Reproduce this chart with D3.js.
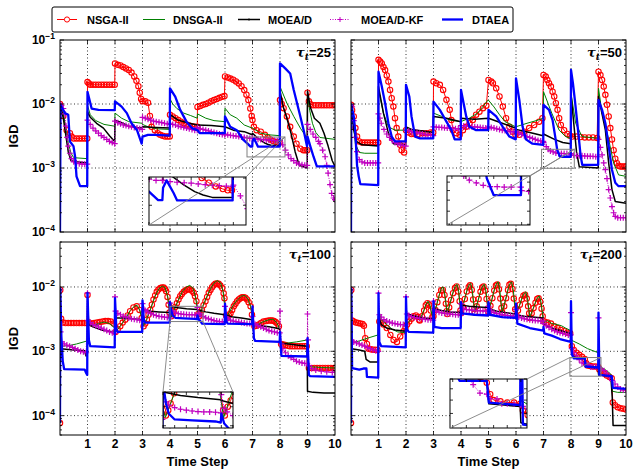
<!DOCTYPE html>
<html>
<head>
<meta charset="utf-8">
<script src="https://cdn.jsdelivr.net/npm/d3@7"></script>
<style>
  body { margin: 0; background: #fff; }
  text { font-family: "Liberation Sans", Arial, sans-serif; font-weight: bold; fill: #000; }
</style>
</head>
<body>
<svg id="chart" width="633" height="472"></svg>
<script>
// ---- data: [time step, IGD] ----
const nsga25 = [
[0,1.0e-2],[0.12,6.5e-3],[0.24,3.9e-3],[0.36,3.5e-3],[0.42,3.1e-3],[0.5,2.9e-3],[0.6,2.9e-3],[0.7,2.9e-3],[0.8,2.9e-3],[0.9,2.9e-3],[0.99,2.9e-3],
[1,2.2e-2],[1.05,2.1e-2],[1.1,2.0e-2],[1.2,2.0e-2],[1.3,2.0e-2],[1.4,2.0e-2],[1.5,2.0e-2],[1.6,2.0e-2],[1.7,2.0e-2],[1.8,2.0e-2],[1.9,2.0e-2],[1.99,2.0e-2],
[2,4.3e-2],[2.1,4.1e-2],[2.2,4.0e-2],[2.3,3.8e-2],[2.4,3.6e-2],[2.5,3.4e-2],[2.6,3.1e-2],[2.7,2.7e-2],[2.78,2.3e-2],[2.85,1.9e-2],[2.9,1.5e-2],[2.95,1.2e-2],
[3,1.1e-2],[3.1,1.1e-2],[3.2,1.05e-2],[3.27,6.5e-3],[3.33,4.4e-3],[3.45,3.9e-3],[3.55,3.5e-3],[3.64,3.3e-3],[3.73,3.2e-3],[3.82,3.1e-3],[3.91,3.1e-3],[3.99,3.1e-3],
[4,6.8e-3],[4.1,6.4e-3],[4.2,6.0e-3],[4.3,5.6e-3],[4.4,5.3e-3],[4.5,5.0e-3],[4.6,4.8e-3],[4.7,4.6e-3],[4.8,4.5e-3],[4.9,4.4e-3],[4.99,4.4e-3],
[5,9.0e-3],[5.1,9.3e-3],[5.2,9.7e-3],[5.3,1.0e-2],[5.4,1.05e-2],[5.5,1.1e-2],[5.6,1.15e-2],[5.7,1.2e-2],[5.8,1.25e-2],[5.9,1.3e-2],[5.98,1.33e-2],
[6,2.7e-2],[6.1,2.6e-2],[6.2,2.5e-2],[6.3,2.4e-2],[6.4,2.25e-2],[6.5,2.1e-2],[6.6,1.9e-2],[6.7,1.65e-2],[6.78,1.4e-2],[6.85,1.15e-2],[6.92,8.5e-3],[6.97,6.5e-3],
[7,5.6e-3],[7.05,4.4e-3],[7.15,3.9e-3],[7.3,3.7e-3],[7.45,3.3e-3],[7.55,3.0e-3],[7.65,2.8e-3],[7.75,2.65e-3],[7.85,2.55e-3],[7.92,2.5e-3],[7.98,2.5e-3],
[8,1.15e-2],[8.06,1.0e-2],[8.13,8.6e-3],[8.25,6.4e-3],[8.37,4.4e-3],[8.5,3.1e-3],[8.6,2.4e-3],[8.74,2.0e-3],[8.85,1.9e-3],[8.92,1.9e-3],[8.99,1.9e-3],
[9,1.5e-2],[9.05,1.1e-2],[9.1,1.0e-2],[9.2,9.6e-3],[9.3,9.6e-3],[9.4,9.6e-3],[9.5,9.6e-3],[9.6,9.6e-3],[9.7,9.6e-3],[9.8,9.6e-3],[9.9,9.6e-3],[10,9.6e-3]
];
const dnsga25 = [
[0,1.0e-2],[0.1,8e-3],[0.2,4.5e-3],[0.3,2.5e-3],[0.4,1.7e-3],[0.5,1.45e-3],[0.99,1.4e-3],
[1,9.5e-3],[1.1,6.8e-3],[1.3,5.5e-3],[1.6,4.8e-3],[1.99,4.5e-3],
[2,7.2e-3],[2.24,6.0e-3],[2.5,5.3e-3],[2.99,5.0e-3],
[3,4.8e-3],[3.2,4.4e-3],[3.5,4.1e-3],[3.99,4.0e-3],
[4,1.2e-2],[4.1,1.0e-2],[4.25,8.5e-3],[4.5,7.2e-3],[4.75,6.6e-3],[4.99,6.0e-3],
[5,7e-3],[5.3,6e-3],[5.6,5.5e-3],[5.99,5.3e-3],
[6,8.6e-3],[6.19,6.8e-3],[6.43,6.0e-3],[6.7,4.7e-3],[6.99,4.2e-3],
[7,4.2e-3],[7.3,3.5e-3],[7.6,3.3e-3],[7.99,3.2e-3],
[8,1.87e-2],[8.25,1.03e-2],[8.5,6.4e-3],[8.74,4.2e-3],[8.99,2.9e-3],
[9,1.3e-2],[9.08,8e-3],[9.18,5e-3],[9.3,3.6e-3],[9.45,3.0e-3],[10,2.8e-3]
];
const moead25 = [
[0,1.0e-2],[0.12,6e-3],[0.2,3.5e-3],[0.3,1.8e-3],[0.4,1.3e-3],[0.6,1.25e-3],[0.99,1.2e-3],
[1,7.6e-3],[1.1,6.2e-3],[1.33,5.0e-3],[1.58,4.2e-3],[1.8,3.2e-3],[1.99,2.6e-3],
[2,5.6e-3],[2.2,5.2e-3],[2.5,4.5e-3],[2.8,4.3e-3],[2.99,4.2e-3],
[3,4.4e-3],[3.5,4.3e-3],[3.99,4.2e-3],
[4,6.8e-3],[4.3,5.6e-3],[4.7,5.0e-3],[4.99,4.7e-3],
[5,4.7e-3],[5.5,4.6e-3],[5.99,4.4e-3],
[6,4.4e-3],[6.3,3.9e-3],[6.7,3.7e-3],[6.99,3.3e-3],
[7,3.5e-3],[7.14,3.05e-3],[7.3,2.7e-3],[7.45,2.45e-3],[7.57,2.33e-3],[7.7,2.25e-3],[7.99,2.25e-3],
[8,1.6e-2],[8.12,9e-3],[8.25,6e-3],[8.4,3.5e-3],[8.55,1.8e-3],[8.7,1.1e-3],[8.99,1.0e-3],
[9,1.6e-2],[9.1,9e-3],[9.25,6e-3],[9.45,5e-3],[9.6,3.5e-3],[9.75,2.2e-3],[9.9,1.3e-3],[10,1.06e-3]
];
const moeadkf25 = [
[0,1.0e-2],[0.05,9.5e-3],[0.12,8.5e-3],[0.18,7e-3],[0.22,4.5e-3],[0.26,3.0e-3],[0.3,2.2e-3],[0.36,1.7e-3],[0.42,1.4e-3],[0.5,1.25e-3],[0.6,1.2e-3],[0.7,1.17e-3],[0.8,1.15e-3],[0.9,1.15e-3],[0.99,1.15e-3],
[1,5.6e-3],[1.1,4.8e-3],[1.2,4.2e-3],[1.3,3.8e-3],[1.4,3.5e-3],[1.5,3.2e-3],[1.6,3.0e-3],[1.7,2.8e-3],[1.8,2.6e-3],[1.9,2.5e-3],[1.99,2.4e-3],
[2,5.4e-3],[2.1,5.1e-3],[2.2,4.9e-3],[2.3,4.7e-3],[2.4,4.6e-3],[2.5,4.5e-3],[2.6,4.4e-3],[2.7,4.3e-3],[2.8,4.2e-3],[2.9,4.1e-3],[2.99,4.0e-3],
[3,6.2e-3],[3.1,6.0e-3],[3.2,5.8e-3],[3.3,5.6e-3],[3.4,5.4e-3],[3.5,5.3e-3],[3.6,5.2e-3],[3.7,5.1e-3],[3.8,5.0e-3],[3.9,4.9e-3],[3.99,4.8e-3],
[4,5.0e-3],[4.1,4.8e-3],[4.2,4.7e-3],[4.3,4.5e-3],[4.4,4.4e-3],[4.5,4.3e-3],[4.6,4.2e-3],[4.7,4.1e-3],[4.8,4.0e-3],[4.9,3.9e-3],[4.99,3.9e-3],
[5,4.3e-3],[5.1,4.1e-3],[5.2,4.0e-3],[5.3,3.9e-3],[5.4,3.8e-3],[5.5,3.7e-3],[5.6,3.6e-3],[5.7,3.5e-3],[5.8,3.4e-3],[5.9,3.35e-3],[5.99,3.3e-3],
[6,3.4e-3],[6.1,3.3e-3],[6.2,3.25e-3],[6.3,3.2e-3],[6.4,3.15e-3],[6.5,3.1e-3],[6.6,3.05e-3],[6.7,3.0e-3],[6.8,2.95e-3],[6.9,2.9e-3],[6.99,2.9e-3],
[7,2.9e-3],[7.1,2.85e-3],[7.2,2.82e-3],[7.3,2.8e-3],[7.4,2.78e-3],[7.5,2.75e-3],[7.6,2.72e-3],[7.7,2.7e-3],[7.8,2.68e-3],[7.9,2.66e-3],[7.99,2.65e-3],
[8,2.7e-3],[8.1,2.3e-3],[8.2,1.9e-3],[8.3,1.6e-3],[8.4,1.4e-3],[8.5,1.3e-3],[8.6,1.2e-3],[8.7,1.15e-3],[8.8,1.12e-3],[8.9,1.1e-3],[8.99,1.1e-3],
[9,4.8e-3],[9.1,4.0e-3],[9.2,3.4e-3],[9.3,3.0e-3],[9.4,2.6e-3],[9.45,2.4e-3],[9.55,1.9e-3],[9.64,1.5e-3],[9.7,1.1e-3],[9.75,8.3e-4],[9.82,5.5e-4],[9.88,4.0e-4],[9.95,3.4e-4],[10,3.2e-4]
];
const dtaea25 = [
[0,1e-4],[0.02,9.7e-3],[0.18,7.2e-3],[0.3,6.8e-3],[0.36,2.6e-3],[0.49,2.2e-3],[0.55,1.5e-3],[0.6,7.4e-4],[0.73,5.2e-4],[0.99,5.2e-4],
[1,1.55e-2],[1.15,8.5e-3],[1.4,8.1e-3],[1.99,8.0e-3],
[2,1.1e-2],[2.24,9.1e-3],[2.43,7.2e-3],[2.6,5e-3],[2.8,3.9e-3],[2.97,2.4e-3],
[3,3.1e-3],[3.2,3.3e-3],[3.5,3.3e-3],[3.99,3.2e-3],
[4,1.76e-2],[4.19,1.3e-2],[4.37,8.1e-3],[4.6,5.3e-3],[4.8,4.2e-3],[4.99,3.9e-3],
[5,3.9e-3],[5.08,3.5e-3],[5.99,3.5e-3],
[6,6.4e-3],[6.19,4.4e-3],[6.43,3.9e-3],[6.65,2.8e-3],[6.8,2.45e-3],[6.93,2.16e-3],[6.99,2.16e-3],
[7,2.6e-3],[7.05,2.9e-3],[7.15,2.4e-3],[7.2,2.15e-3],[7.99,2.15e-3],
[8,4.3e-2],[8.19,3.6e-2],[8.37,3.0e-2],[8.5,1.66e-2],[8.62,1.03e-2],[8.74,6.4e-3],[8.86,3.9e-3],[8.98,2.2e-3],
[9,3.1e-3],[9.1,2.2e-3],[9.22,1.5e-3],[9.34,1.06e-3],[10,1.06e-3]
];

const nsga50 = [
[0,9.7e-3],[0.04,8e-3],[0.1,6.4e-3],[0.16,4.2e-3],[0.22,3.1e-3],[0.3,2.6e-3],[0.4,2.5e-3],[0.5,2.5e-3],[0.6,2.5e-3],[0.7,2.5e-3],[0.8,2.5e-3],[0.9,2.5e-3],[0.99,2.5e-3],
[1,4.9e-2],[1.06,4.6e-2],[1.12,4.3e-2],[1.18,3.8e-2],[1.24,3.4e-2],[1.3,2.8e-2],[1.36,2.24e-2],[1.42,1.66e-2],[1.48,1.23e-2],[1.54,9.1e-3],[1.6,6e-3],[1.66,4.2e-3],[1.72,3.1e-3],[1.78,2.3e-3],[1.84,1.9e-3],[1.93,1.75e-3],
[2,3.9e-3],[2.1,3.6e-3],[2.2,3.4e-3],[2.3,3.4e-3],[2.45,3.4e-3],[2.6,3.5e-3],[2.75,3.5e-3],[2.9,3.6e-3],[2.99,3.6e-3],
[3,2.24e-2],[3.1,2.11e-2],[3.23,1.99e-2],[3.35,1.66e-2],[3.47,1.16e-2],[3.59,8.1e-3],[3.65,5.6e-3],[3.71,3.9e-3],[3.83,3.5e-3],[3.95,3.3e-3],
[4.07,3.9e-3],[4.19,4.4e-3],[4.31,5e-3],[4.43,5.6e-3],[4.55,6.8e-3],[4.67,7.6e-3],[4.8,8.6e-3],[4.92,9.4e-3],
[5,2.37e-2],[5.1,2.24e-2],[5.16,2.11e-2],[5.28,1.76e-2],[5.4,1.31e-2],[5.52,9.1e-3],[5.64,6e-3],[5.76,4.4e-3],[5.88,3.7e-3],[5.98,3.3e-3],
[6.12,3.3e-3],[6.3,3.7e-3],[6.48,4.2e-3],[6.66,4.7e-3],[6.84,5.3e-3],[6.96,6e-3],
[7,2.84e-2],[7.08,2.68e-2],[7.14,2.37e-2],[7.2,2.11e-2],[7.27,1.87e-2],[7.33,1.56e-2],[7.39,1.31e-2],[7.45,1.03e-2],[7.51,8.1e-3],[7.57,6e-3],[7.63,4.7e-3],[7.75,3.9e-3],[7.87,3.4e-3],[7.96,3.2e-3],
[8.05,3.1e-3],[8.2,3.1e-3],[8.35,3.05e-3],[8.5,3.0e-3],[8.65,3.0e-3],[8.8,3.0e-3],[8.95,2.95e-3],
[9,3.2e-2],[9.07,2.84e-2],[9.13,2.37e-2],[9.19,1.87e-2],[9.25,1.39e-2],[9.31,9.7e-3],[9.37,6.4e-3],[9.43,4.2e-3],[9.49,2.8e-3],[9.55,1.9e-3],[9.61,1.4e-3],[9.67,1.19e-3],[9.73,1.08e-3],[9.8,1.06e-3],[9.87,1.06e-3],[9.94,1.06e-3],[10,1.06e-3]
];
const dnsga50 = [
[0,9.7e-3],[0.08,5e-3],[0.16,2.4e-3],[0.3,1.75e-3],[0.5,1.7e-3],[0.99,1.7e-3],
[1,1.66e-2],[1.18,7.2e-3],[1.36,4.4e-3],[1.6,3.9e-3],[1.99,3.9e-3],
[2,4.2e-3],[2.3,3.9e-3],[2.7,3.7e-3],[2.99,3.6e-3],
[3,7.2e-3],[3.3,6.4e-3],[3.6,5.6e-3],[3.99,5.3e-3],
[4.3,6.0e-3],[4.6,7.2e-3],[4.99,1.16e-2],
[5.2,9e-3],[5.4,6.8e-3],[5.6,5.3e-3],[5.99,4.4e-3],
[6.4,5.0e-3],[6.8,5.6e-3],[6.99,6e-3],
[7,1.56e-2],[7.3,7.2e-3],[7.57,3.9e-3],[7.8,3.1e-3],[7.99,2.9e-3],
[8,1.47e-2],[8.17,5e-3],[8.4,3.1e-3],[8.99,2.9e-3],
[9,1.76e-2],[9.13,7.2e-3],[9.37,2.8e-3],[9.55,1.19e-3],[9.73,7.8e-4],[10,7.4e-4]
];
const moead50 = [
[0,9.7e-3],[0.1,4e-3],[0.2,2.6e-3],[0.4,2.3e-3],[0.99,2.2e-3],
[1,1.87e-2],[1.18,7.2e-3],[1.36,3.5e-3],[1.54,2.4e-3],[1.99,2.3e-3],
[2,4.4e-3],[2.2,4.0e-3],[2.6,3.8e-3],[2.99,3.6e-3],
[3,6.4e-3],[3.47,6.0e-3],[3.99,5.3e-3],
[4,6.0e-3],[4.5,5.8e-3],[4.99,6.0e-3],
[5,6.0e-3],[5.5,5.0e-3],[5.99,4.2e-3],
[6,4.0e-3],[6.5,3.6e-3],[6.99,3.2e-3],
[7,3.4e-3],[7.4,2.8e-3],[7.7,2.5e-3],[7.99,2.4e-3],
[8,1.4e-2],[8.1,5e-3],[8.2,1.8e-3],[8.3,1.05e-3],[8.99,1.0e-3],
[9,1.31e-2],[9.25,3.9e-3],[9.37,1.19e-3],[9.49,4.6e-4],[9.61,3.0e-4],[10,2.8e-4]
];
const moeadkf50 = [
[0,9.7e-3],[0.04,9e-3],[0.1,5.5e-3],[0.16,3e-3],[0.22,1.8e-3],[0.3,1.35e-3],[0.4,1.25e-3],[0.5,1.2e-3],[0.6,1.2e-3],[0.7,1.2e-3],[0.8,1.2e-3],[0.9,1.2e-3],[0.99,1.2e-3],
[1,7e-3],[1.05,6e-3],[1.1,5e-3],[1.2,4e-3],[1.3,3.4e-3],[1.4,3e-3],[1.5,2.7e-3],[1.6,2.5e-3],[1.7,2.4e-3],[1.8,2.3e-3],[1.9,2.25e-3],[1.99,2.2e-3],
[2,3.9e-3],[2.1,3.8e-3],[2.2,3.7e-3],[2.3,3.6e-3],[2.4,3.6e-3],[2.5,3.5e-3],[2.6,3.4e-3],[2.7,3.35e-3],[2.8,3.3e-3],[2.9,3.25e-3],[2.99,3.2e-3],
[3,4.4e-3],[3.1,4.35e-3],[3.2,4.3e-3],[3.3,4.3e-3],[3.4,4.25e-3],[3.5,4.2e-3],[3.6,4.2e-3],[3.7,4.15e-3],[3.8,4.1e-3],[3.9,4.1e-3],[3.99,4.1e-3],
[4,4.6e-3],[4.1,4.55e-3],[4.2,4.5e-3],[4.3,4.45e-3],[4.4,4.4e-3],[4.5,4.4e-3],[4.6,4.35e-3],[4.7,4.3e-3],[4.8,4.25e-3],[4.9,4.2e-3],[4.99,4.2e-3],
[5,4.4e-3],[5.1,4.3e-3],[5.2,4.2e-3],[5.3,4.1e-3],[5.4,4.0e-3],[5.5,3.9e-3],[5.6,3.85e-3],[5.7,3.8e-3],[5.8,3.7e-3],[5.9,3.65e-3],[5.99,3.6e-3],
[6,3.7e-3],[6.1,3.5e-3],[6.2,3.35e-3],[6.3,3.2e-3],[6.4,3.1e-3],[6.5,3.0e-3],[6.6,2.9e-3],[6.7,2.8e-3],[6.8,2.7e-3],[6.9,2.65e-3],[6.99,2.6e-3],
[7,2.5e-3],[7.1,2.15e-3],[7.17,1.96e-3],[7.25,1.85e-3],[7.35,1.78e-3],[7.45,1.72e-3],[7.55,1.69e-3],[7.65,1.69e-3],[7.75,1.68e-3],[7.85,1.68e-3],[7.99,1.68e-3],
[8,1.6e-3],[8.1,1.58e-3],[8.2,1.56e-3],[8.3,1.55e-3],[8.4,1.55e-3],[8.5,1.54e-3],[8.6,1.53e-3],[8.7,1.52e-3],[8.8,1.52e-3],[8.9,1.5e-3],[8.99,1.5e-3],
[9,2.8e-3],[9.07,2.1e-3],[9.13,1.6e-3],[9.19,1.2e-3],[9.25,9.4e-4],[9.31,6.8e-4],[9.37,4.6e-4],[9.43,3.4e-4],[9.49,2.5e-4],[9.55,2e-4],[9.61,1.75e-4],[9.7,1.67e-4],[9.8,1.67e-4],[9.9,1.67e-4],[10,1.67e-4]
];
const dtaea50 = [
[0,1e-4],[0.01,9.7e-3],[0.1,6.4e-3],[0.16,3.5e-3],[0.22,1.1e-3],[0.28,7.4e-4],[0.34,5.6e-4],[0.99,5.4e-4],
[1,3.2e-2],[1.12,1.87e-2],[1.24,1.03e-2],[1.36,5e-3],[1.48,3.1e-3],[1.6,2.6e-3],[1.99,2.6e-3],
[2,1.99e-2],[2.12,1.31e-2],[2.2,6.4e-3],[2.33,3.1e-3],[2.51,2.9e-3],[2.99,2.9e-3],
[3,1.09e-2],[3.23,8.1e-3],[3.47,5.3e-3],[3.65,3.9e-3],[3.77,2.8e-3],[3.99,2.8e-3],
[4,1.66e-2],[4.19,6.4e-3],[4.31,4.4e-3],[4.55,3.9e-3],[4.99,3.9e-3],
[5,8.1e-3],[5.28,6.4e-3],[5.52,4.4e-3],[5.76,3.1e-3],[5.99,2.8e-3],
[6,2.52e-2],[6.12,1.16e-2],[6.24,4.4e-3],[6.36,2.8e-3],[6.6,2.4e-3],[6.99,2.3e-3],
[7,9.7e-3],[7.2,8.1e-3],[7.33,5.6e-3],[7.42,3.2e-3],[7.5,1.9e-3],[7.6,1.5e-3],[7.99,1.5e-3],
[8,3.4e-2],[8.07,2.11e-2],[8.14,1.16e-2],[8.23,5e-3],[8.29,2.8e-3],[8.35,1.55e-3],[8.41,1.12e-3],[8.99,1.12e-3],
[9,1.16e-2],[9.13,8.1e-3],[9.25,5e-3],[9.37,2.2e-3],[9.49,9.4e-4],[9.61,5.9e-4],[9.73,5.2e-4],[10,5.2e-4]
];

const nsga100 = [
[0,7.7e-5],[0.01,9e-3],[0.04,3.2e-3],[0.1,2.8e-3],[0.2,2.75e-3],[0.3,2.75e-3],[0.4,2.75e-3],[0.5,2.75e-3],[0.6,2.75e-3],[0.7,2.75e-3],[0.8,2.75e-3],[0.9,2.75e-3],[0.98,2.75e-3],
[1,7.5e-3],[1.05,2.8e-3],[1.15,2.7e-3],[1.25,2.75e-3],[1.35,2.8e-3],[1.45,2.85e-3],[1.55,2.9e-3],[1.65,2.95e-3],[1.75,2.95e-3],[1.85,2.9e-3],[1.95,2.7e-3],
[2.02,2.0e-3],[2.1,2.2e-3],[2.19,2.45e-3],[2.28,2.8e-3],[2.37,3.1e-3],[2.46,3.6e-3],[2.55,4.2e-3],[2.67,4.8e-3],[2.79,5.0e-3],[2.89,4.4e-3],[2.97,3.3e-3],
[3.04,2.45e-3],[3.1,2.7e-3],[3.16,3.1e-3],[3.22,3.7e-3],[3.28,4.4e-3],[3.34,5.3e-3],[3.4,6.4e-3],[3.46,7.4e-3],[3.52,8.4e-3],[3.58,9.1e-3],[3.65,9.6e-3],[3.71,9.8e-3],[3.77,9.8e-3],[3.82,9.3e-3],[3.86,8.6e-3],[3.91,7e-3],[3.95,5.3e-3],[3.98,4e-3],
[4.05,3.5e-3],[4.09,3.8e-3],[4.13,4.2e-3],[4.19,4.9e-3],[4.25,5.6e-3],[4.31,6.4e-3],[4.37,7.2e-3],[4.43,7.8e-3],[4.5,8.4e-3],[4.56,8.8e-3],[4.62,9.1e-3],[4.68,9.2e-3],[4.74,9.1e-3],[4.8,8.7e-3],[4.86,8.1e-3],[4.91,7.2e-3],[4.96,6e-3],
[5.03,3.8e-3],[5.06,3.5e-3],[5.11,4.0e-3],[5.16,4.4e-3],[5.22,5.2e-3],[5.29,6e-3],[5.35,7e-3],[5.41,8.1e-3],[5.47,9e-3],[5.53,9.9e-3],[5.59,1.06e-2],[5.65,1.12e-2],[5.71,1.13e-2],[5.77,1.12e-2],[5.83,1.05e-2],[5.9,9.6e-3],[5.95,8e-3],[5.98,6.7e-3],
[6.04,3.6e-3],[6.08,3.3e-3],[6.14,3.6e-3],[6.2,3.9e-3],[6.26,4.4e-3],[6.32,5e-3],[6.38,5.5e-3],[6.44,6e-3],[6.5,6.4e-3],[6.56,6.7e-3],[6.62,6.9e-3],[6.68,6.9e-3],[6.74,6.8e-3],[6.8,6.4e-3],[6.86,5.8e-3],[6.93,5e-3],[6.98,3.7e-3],
[7.07,2.45e-3],[7.15,2.5e-3],[7.23,2.6e-3],[7.31,2.75e-3],[7.4,2.9e-3],[7.5,2.95e-3],[7.59,3.0e-3],[7.66,3.0e-3],[7.72,3.0e-3],[7.78,2.95e-3],[7.84,2.85e-3],[7.9,2.7e-3],[7.96,2.45e-3],
[8.04,1.3e-3],[8.12,1.27e-3],[8.2,1.25e-3],[8.28,1.22e-3],[8.36,1.2e-3],[8.45,1.2e-3],[8.54,1.2e-3],[8.63,1.2e-3],[8.72,1.2e-3],[8.81,1.2e-3],[8.9,1.2e-3],[8.97,1.2e-3],
[9.05,5.5e-4],[9.15,5.5e-4],[9.25,5.5e-4],[9.35,5.5e-4],[9.45,5.5e-4],[9.55,5.5e-4],[9.65,5.5e-4],[9.75,5.5e-4],[9.85,5.5e-4],[9.95,5.5e-4],[10,5.5e-4]
];
const dnsga100 = [
[0,9e-3],[0.04,1.2e-3],[0.3,1.22e-3],[0.6,1.3e-3],[0.99,1.45e-3],
[1,7e-3],[1.05,2.6e-3],[1.2,2.5e-3],[1.4,2.7e-3],[1.6,2.85e-3],[1.8,2.7e-3],[1.99,2.3e-3],
[2.02,2.0e-3],[2.2,2.5e-3],[2.4,3.3e-3],[2.55,4.3e-3],[2.7,5.0e-3],[2.8,5.2e-3],[2.9,4.4e-3],[2.99,3.0e-3],
[3.04,2.5e-3],[3.15,3.2e-3],[3.3,4.6e-3],[3.45,7e-3],[3.6,9.5e-3],[3.72,1.03e-2],[3.82,9.8e-3],[3.92,7e-3],[3.99,4e-3],
[4.04,3.4e-3],[4.15,4.4e-3],[4.3,6.2e-3],[4.45,8.5e-3],[4.6,1.0e-2],[4.72,1.06e-2],[4.84,9.5e-3],[4.93,7e-3],[4.99,4.5e-3],
[5.04,3.4e-3],[5.15,4.6e-3],[5.3,6.5e-3],[5.45,9e-3],[5.6,1.15e-2],[5.72,1.26e-2],[5.84,1.15e-2],[5.93,8.5e-3],[5.99,5e-3],
[6.04,3.3e-3],[6.15,4e-3],[6.3,5.2e-3],[6.45,6.3e-3],[6.6,7.2e-3],[6.72,7.4e-3],[6.84,6.5e-3],[6.93,5e-3],[6.99,3.6e-3],
[7.04,2.4e-3],[7.2,2.6e-3],[7.4,2.9e-3],[7.6,3.1e-3],[7.75,3.15e-3],[7.88,2.8e-3],[7.99,2.2e-3],
[8.02,1.3e-3],[8.3,1.35e-3],[8.6,1.4e-3],[8.99,1.5e-3],
[9.02,5.8e-4],[9.5,5.6e-4],[10,5.5e-4]
];
const moead100 = [
[0,9e-3],[0.03,1.1e-3],[0.5,1.05e-3],[0.9,1.02e-3],[0.94,8.5e-4],[0.99,8.5e-4],
[1,2.7e-3],[1.2,2.4e-3],[1.5,2.15e-3],[1.8,2.05e-3],[1.99,1.95e-3],
[2,3.3e-3],[2.3,3.3e-3],[2.6,3.2e-3],[2.99,3.1e-3],
[3,4.4e-3],[3.3,4.2e-3],[3.6,4.1e-3],[3.99,4.0e-3],
[4,5.0e-3],[4.3,4.75e-3],[4.6,4.6e-3],[4.99,4.45e-3],
[5,4.4e-3],[5.3,4.1e-3],[5.6,3.9e-3],[5.99,3.7e-3],
[6,3.7e-3],[6.3,3.4e-3],[6.6,3.3e-3],[6.99,3.1e-3],
[7,2.6e-3],[7.3,2.5e-3],[7.6,2.4e-3],[7.99,2.25e-3],
[8,1.35e-3],[8.3,1.3e-3],[8.6,1.25e-3],[8.99,1.2e-3],
[9,2.4e-4],[9.2,2.3e-4],[9.6,2.25e-4],[10,2.25e-4]
];
const moeadkf100 = [
[0,9e-3],[0.02,2e-3],[0.05,1.4e-3],[0.15,1.3e-3],[0.25,1.25e-3],[0.35,1.2e-3],[0.45,1.15e-3],[0.55,1.1e-3],[0.65,1.05e-3],[0.75,1.0e-3],[0.85,9.8e-4],[0.95,9.5e-4],
[1,8e-3],[1.02,3.0e-3],[1.1,2.8e-3],[1.2,2.6e-3],[1.3,2.5e-3],[1.4,2.4e-3],[1.5,2.3e-3],[1.6,2.2e-3],[1.7,2.1e-3],[1.8,2.0e-3],[1.9,1.95e-3],[1.99,1.9e-3],
[2,7e-3],[2.02,4.2e-3],[2.1,3.9e-3],[2.2,3.7e-3],[2.3,3.5e-3],[2.4,3.4e-3],[2.5,3.3e-3],[2.6,3.2e-3],[2.7,3.15e-3],[2.8,3.1e-3],[2.9,3.05e-3],[2.99,3.0e-3],
[3,5.5e-3],[3.05,4.5e-3],[3.1,4.3e-3],[3.2,4.1e-3],[3.3,3.9e-3],[3.4,3.7e-3],[3.5,3.6e-3],[3.6,3.5e-3],[3.7,3.45e-3],[3.8,3.4e-3],[3.9,3.35e-3],[3.99,3.3e-3],
[4,5.6e-3],[4.05,4.3e-3],[4.1,4.1e-3],[4.2,3.95e-3],[4.3,3.85e-3],[4.4,3.8e-3],[4.5,3.75e-3],[4.6,3.72e-3],[4.7,3.7e-3],[4.8,3.7e-3],[4.9,3.68e-3],[4.99,3.65e-3],
[5,4.8e-3],[5.05,3.9e-3],[5.1,3.7e-3],[5.2,3.5e-3],[5.3,3.3e-3],[5.4,3.2e-3],[5.5,3.1e-3],[5.6,3.0e-3],[5.7,2.95e-3],[5.8,2.9e-3],[5.9,2.9e-3],[5.99,2.85e-3],
[6,5.0e-3],[6.05,3.4e-3],[6.1,3.2e-3],[6.2,3.05e-3],[6.3,2.95e-3],[6.4,2.9e-3],[6.5,2.85e-3],[6.6,2.8e-3],[6.7,2.75e-3],[6.8,2.7e-3],[6.9,2.7e-3],[6.99,2.65e-3],
[7,3.5e-3],[7.05,2.7e-3],[7.1,2.6e-3],[7.2,2.5e-3],[7.3,2.4e-3],[7.4,2.3e-3],[7.5,2.2e-3],[7.6,2.1e-3],[7.7,2.05e-3],[7.8,2.0e-3],[7.9,1.95e-3],[7.99,1.93e-3],
[8,4.2e-3],[8.05,1.3e-3],[8.1,1.1e-3],[8.2,9.5e-4],[8.3,8.5e-4],[8.4,8e-4],[8.5,7.5e-4],[8.6,7e-4],[8.7,6.8e-4],[8.8,6.6e-4],[8.9,6.5e-4],[8.99,6.4e-4],
[9,3.8e-3],[9.02,1.5e-3],[9.05,6e-4],[9.15,5.4e-4],[9.3,5.1e-4],[9.5,4.9e-4],[9.7,4.8e-4],[9.9,4.7e-4],[10,4.7e-4]
];
const dtaea100 = [
[0,7.7e-5],[0.01,9.5e-3],[0.05,1.7e-3],[0.1,7e-4],[0.15,5.3e-4],[0.9,5.2e-4],[0.95,4.6e-4],[0.99,4.3e-4],
[1,8.1e-3],[1.05,1.5e-3],[1.1,1.2e-3],[1.99,1.15e-3],
[2,6.7e-3],[2.05,2.2e-3],[2.1,2.0e-3],[2.99,2.0e-3],
[3,6.2e-3],[3.05,3.0e-3],[3.1,2.8e-3],[3.99,2.8e-3],
[4,5.8e-3],[4.05,4.2e-3],[4.1,3.6e-3],[4.2,3.3e-3],[4.5,3.25e-3],[4.9,3.2e-3],[4.99,3.15e-3],
[5,3.6e-3],[5.05,3.1e-3],[5.12,2.9e-3],[5.16,2.7e-3],[5.99,2.65e-3],
[6,5.5e-3],[6.05,2.9e-3],[6.1,2.7e-3],[6.99,2.65e-3],
[7,5e-3],[7.05,1.6e-3],[7.1,1.45e-3],[7.99,1.4e-3],
[8,2e-3],[8.05,8.5e-4],[8.99,8.3e-4],
[9,1.6e-3],[9.05,4.3e-4],[9.1,4.1e-4],[10,4.0e-4]
];

const nsga200 = [
[0,7.7e-5],[0.01,9e-3],[0.04,3.0e-3],[0.1,2.9e-3],[0.18,2.8e-3],[0.26,2.75e-3],[0.34,2.7e-3],[0.42,2.65e-3],[0.47,2.5e-3],[0.52,1.6e-3],[0.58,1.3e-3],[0.64,1.1e-3],[0.72,1.08e-3],[0.8,1.06e-3],[0.88,1.06e-3],[0.96,1.05e-3],
[1.03,2.9e-3],[1.1,2.8e-3],[1.18,2.6e-3],[1.3,2.3e-3],[1.43,1.8e-3],[1.55,1.5e-3],[1.67,1.4e-3],[1.79,1.7e-3],[1.91,2.05e-3],[1.98,2.3e-3],
[2.04,2.6e-3],[2.12,2.9e-3],[2.2,3.2e-3],[2.28,3.5e-3],[2.36,3.6e-3],[2.43,3.4e-3],[2.48,3.1e-3],
[2.5,3.0e-3],[2.58,3.5e-3],[2.66,4.3e-3],[2.72,5.2e-3],[2.78,5.6e-3],[2.84,5.3e-3],[2.9,4.3e-3],[2.96,3.4e-3],
[3.0,3.5e-3],[3.07,4.4e-3],[3.14,5.8e-3],[3.21,7.5e-3],[3.28,8.9e-3],[3.34,9.0e-3],[3.4,7.5e-3],[3.45,5.5e-3],[3.48,4.2e-3],
[3.5,3.8e-3],[3.57,4.8e-3],[3.64,6.3e-3],[3.71,8.0e-3],[3.78,9.6e-3],[3.84,1.02e-2],[3.9,8.5e-3],[3.95,6.0e-3],[3.98,4.3e-3],
[4.0,3.9e-3],[4.07,4.9e-3],[4.14,6.5e-3],[4.21,8.5e-3],[4.28,1.0e-2],[4.33,1.06e-2],[4.39,9.0e-3],[4.44,6.4e-3],[4.48,4.6e-3],
[4.5,4.0e-3],[4.57,5.0e-3],[4.64,6.5e-3],[4.71,8.4e-3],[4.77,9.8e-3],[4.82,1.02e-2],[4.88,8.8e-3],[4.93,6.5e-3],[4.97,4.6e-3],
[5.0,4.1e-3],[5.07,5.1e-3],[5.14,6.7e-3],[5.21,8.8e-3],[5.27,1.05e-2],[5.32,1.09e-2],[5.38,9.2e-3],[5.43,6.6e-3],[5.47,4.7e-3],
[5.5,4.0e-3],[5.57,5.0e-3],[5.64,6.7e-3],[5.71,9.0e-3],[5.76,1.08e-2],[5.81,1.12e-2],[5.87,9.3e-3],[5.92,6.6e-3],[5.97,4.5e-3],
[6.0,3.6e-3],[6.07,4.3e-3],[6.14,5.3e-3],[6.21,6.4e-3],[6.27,7.3e-3],[6.33,7.6e-3],[6.39,6.6e-3],[6.44,5.0e-3],[6.48,3.9e-3],
[6.5,3.3e-3],[6.57,3.9e-3],[6.64,4.7e-3],[6.71,5.7e-3],[6.77,6.5e-3],[6.82,6.7e-3],[6.88,5.9e-3],[6.93,4.6e-3],[6.97,3.5e-3],
[7.03,2.9e-3],[7.15,2.8e-3],[7.27,2.7e-3],[7.39,2.45e-3],[7.51,2.3e-3],[7.63,2.15e-3],[7.75,2.05e-3],[7.87,1.95e-3],[7.97,1.9e-3],
[8.03,1.2e-3],[8.1,1.05e-3],[8.2,9.5e-4],[8.3,8.8e-4],[8.4,8.2e-4],[8.5,7.6e-4],[8.55,6.5e-4],[8.6,6.0e-4],[8.7,5.9e-4],[8.8,5.8e-4],[8.9,5.8e-4],[8.99,5.7e-4],
[9.03,5.2e-4],[9.1,4.9e-4],[9.2,4.5e-4],[9.3,4.2e-4],[9.4,4.0e-4],[9.48,3.8e-4],[9.52,1.6e-4],[9.6,1.45e-4],[9.7,1.35e-4],[9.8,1.3e-4],[9.9,1.28e-4],[10,1.25e-4]
];
const dnsga200 = [
[0,9e-3],[0.03,1.35e-3],[0.3,1.45e-3],[0.6,1.6e-3],[0.99,1.8e-3],
[1,4.5e-3],[1.1,3.1e-3],[1.3,2.6e-3],[1.5,2.2e-3],[1.7,2.0e-3],[1.99,1.95e-3],
[2,2.6e-3],[2.2,3.2e-3],[2.35,3.6e-3],[2.48,3.2e-3],
[2.5,3.1e-3],[2.62,4.0e-3],[2.72,5.3e-3],[2.8,6.0e-3],[2.87,5.2e-3],[2.95,3.6e-3],
[3.0,3.6e-3],[3.12,5.4e-3],[3.22,7.8e-3],[3.3,9.8e-3],[3.36,9.9e-3],[3.42,7.4e-3],[3.48,4.4e-3],
[3.5,3.9e-3],[3.62,6.0e-3],[3.72,8.6e-3],[3.8,1.05e-2],[3.86,1.1e-2],[3.92,8.4e-3],[3.98,4.6e-3],
[4.0,4.0e-3],[4.12,6.2e-3],[4.22,9.0e-3],[4.3,1.1e-2],[4.35,1.15e-2],[4.41,8.8e-3],[4.48,4.9e-3],
[4.5,4.1e-3],[4.62,6.2e-3],[4.72,8.8e-3],[4.8,1.06e-2],[4.85,1.1e-2],[4.91,8.6e-3],[4.97,5.0e-3],
[5.0,4.2e-3],[5.12,6.4e-3],[5.22,9.4e-3],[5.3,1.15e-2],[5.35,1.2e-2],[5.41,9.0e-3],[5.47,5.0e-3],
[5.5,4.1e-3],[5.62,6.4e-3],[5.72,9.6e-3],[5.79,1.15e-2],[5.84,1.2e-2],[5.9,9.0e-3],[5.97,4.8e-3],
[6.0,3.7e-3],[6.12,5.1e-3],[6.22,6.8e-3],[6.3,8.0e-3],[6.36,8.4e-3],[6.42,6.5e-3],[6.48,4.1e-3],
[6.5,3.4e-3],[6.62,4.6e-3],[6.72,6.0e-3],[6.8,7.0e-3],[6.85,7.2e-3],[6.91,5.8e-3],[6.97,3.7e-3],
[7.0,2.8e-3],[7.15,3.0e-3],[7.3,2.7e-3],[7.5,2.6e-3],[7.65,2.5e-3],[7.8,2.3e-3],[7.99,2.1e-3],
[8,1.5e-3],[8.3,1.3e-3],[8.6,1.1e-3],[8.99,9.5e-4],
[9,6e-4],[9.3,5e-4],[9.45,4.4e-4],[9.5,2.4e-4],[9.7,2.3e-4],[10,2.3e-4]
];
const moead200 = [
[0,9e-3],[0.03,1.1e-3],[0.3,1.05e-3],[0.5,1.0e-3],[0.55,7.5e-4],[0.7,6.8e-4],[0.99,6.8e-4],
[1,3.5e-3],[1.1,2.6e-3],[1.3,2.3e-3],[1.6,2.15e-3],[1.99,2.05e-3],
[2,3.9e-3],[2.3,3.5e-3],[2.6,3.3e-3],[2.99,3.2e-3],
[3,4.6e-3],[3.3,4.3e-3],[3.6,4.1e-3],[3.99,4.0e-3],
[4,5.2e-3],[4.3,5.0e-3],[4.6,4.9e-3],[4.99,4.8e-3],
[5,4.6e-3],[5.3,4.2e-3],[5.6,4.0e-3],[5.99,3.8e-3],
[6,3.7e-3],[6.3,3.5e-3],[6.6,3.4e-3],[6.99,3.3e-3],
[7,2.6e-3],[7.3,2.3e-3],[7.6,2.1e-3],[7.99,1.9e-3],
[8,1.1e-3],[8.1,8.5e-4],[8.2,7.9e-4],[8.5,7.8e-4],[8.53,5.7e-4],[8.99,5.5e-4],
[9,4.4e-4],[9.45,4.0e-4],[9.5,1.9e-4],[9.53,7e-5],[10,7e-5]
];
const moeadkf200 = [
[0,9e-3],[0.03,1.45e-3],[0.1,1.4e-3],[0.2,1.35e-3],[0.3,1.3e-3],[0.4,1.25e-3],[0.5,1.2e-3],[0.6,1.15e-3],[0.7,1.1e-3],[0.8,1.05e-3],[0.9,1.02e-3],[0.99,1.0e-3],
[1,8e-3],[1.03,3.7e-3],[1.1,3.4e-3],[1.2,3.1e-3],[1.3,2.95e-3],[1.4,2.85e-3],[1.5,2.75e-3],[1.6,2.7e-3],[1.7,2.65e-3],[1.8,2.6e-3],[1.9,2.6e-3],[1.99,2.55e-3],
[2,7e-3],[2.03,3.8e-3],[2.1,3.6e-3],[2.2,3.45e-3],[2.3,3.35e-3],[2.4,3.3e-3],[2.5,3.25e-3],[2.6,3.2e-3],[2.7,3.15e-3],[2.8,3.1e-3],[2.9,3.1e-3],[2.99,3.05e-3],
[3,6e-3],[3.03,4.4e-3],[3.1,4.2e-3],[3.2,4.05e-3],[3.3,3.95e-3],[3.4,3.9e-3],[3.5,3.85e-3],[3.6,3.8e-3],[3.7,3.75e-3],[3.8,3.7e-3],[3.9,3.7e-3],[3.99,3.65e-3],
[4,5.5e-3],[4.03,4.7e-3],[4.1,4.55e-3],[4.2,4.45e-3],[4.3,4.4e-3],[4.4,4.35e-3],[4.5,4.3e-3],[4.6,4.3e-3],[4.7,4.25e-3],[4.8,4.25e-3],[4.9,4.2e-3],[4.99,4.2e-3],
[5,5e-3],[5.03,4.4e-3],[5.1,4.2e-3],[5.2,4.0e-3],[5.3,3.9e-3],[5.4,3.8e-3],[5.5,3.7e-3],[5.6,3.65e-3],[5.7,3.6e-3],[5.8,3.55e-3],[5.9,3.5e-3],[5.99,3.5e-3],
[6,4.5e-3],[6.03,3.5e-3],[6.1,3.4e-3],[6.2,3.3e-3],[6.3,3.2e-3],[6.4,3.15e-3],[6.5,3.1e-3],[6.6,3.05e-3],[6.7,3.0e-3],[6.8,3.0e-3],[6.9,2.95e-3],[6.99,2.95e-3],
[7,2.7e-3],[7.1,2.5e-3],[7.2,2.35e-3],[7.3,2.2e-3],[7.4,2.1e-3],[7.5,2.0e-3],[7.6,1.95e-3],[7.7,1.9e-3],[7.8,1.85e-3],[7.9,1.8e-3],[7.99,1.8e-3],
[8,4e-3],[8.03,1.1e-3],[8.1,9.5e-4],[8.2,8.5e-4],[8.3,7.4e-4],[8.4,6.6e-4],[8.5,6.5e-4],[8.55,6.1e-4],[8.65,6.1e-4],[8.72,5.7e-4],[8.8,5.7e-4],[8.9,5.7e-4],[8.99,5.6e-4],
[9,3.3e-3],[9.03,5.5e-4],[9.1,5.3e-4],[9.2,5.0e-4],[9.3,4.6e-4],[9.4,4.0e-4],[9.5,3.5e-4],[9.6,3.1e-4],[9.7,2.8e-4],[9.8,2.6e-4],[9.9,2.5e-4],[9.99,2.5e-4]
];
const dtaea200 = [
[0,7.7e-5],[0.01,9.5e-3],[0.04,5.5e-4],[0.3,5.2e-4],[0.45,5.4e-4],[0.56,5.4e-4],[0.58,4e-4],[0.99,3.9e-4],
[1,8e-3],[1.03,1.4e-3],[1.1,1.2e-3],[1.99,1.15e-3],
[2,7e-3],[2.03,2.2e-3],[2.1,2.0e-3],[2.99,1.95e-3],
[3,6e-3],[3.03,2.4e-3],[3.3,2.3e-3],[3.99,2.3e-3],
[4,5.8e-3],[4.03,3.9e-3],[4.5,3.7e-3],[4.99,3.6e-3],
[5,5.8e-3],[5.05,3.7e-3],[5.5,3.4e-3],[5.99,3.3e-3],
[6,5.5e-3],[6.05,2.7e-3],[6.5,2.3e-3],[6.99,2.1e-3],
[7,2.4e-3],[7.03,1.9e-3],[7.3,1.75e-3],[7.6,1.55e-3],[7.99,1.4e-3],
[8,6e-3],[8.03,9e-4],[8.1,7.8e-4],[8.5,7.8e-4],[8.53,5.8e-4],[8.99,5.6e-4],
[9,4e-3],[9.03,4.3e-4],[9.48,4.1e-4],[9.52,2.7e-4],[10,2.6e-4]
];

const algoNames = ['NSGA-II', 'DNSGA-II', 'MOEA/D', 'MOEA/D-KF', 'DTAEA'];
const tauLabels = ['25', '50', '100', '200'];
const xTickLabels = [1, 2, 3, 4, 5, 6, 7, 8, 9, 10];

// ---- styles ----
const styles = [
  { color: '#ff0000', width: 1, marker: 'circle' },
  { color: '#008000', width: 1 },
  { color: '#000000', width: 1.5 },
  { color: '#c000c0', width: 1, dash: '1,1.5', marker: 'plus' },
  { color: '#0000ff', width: 2.3 }
];

const panels = [
  { px: [60, 335], py: [40, 232], yDom: [1e-4, 1e-1], data: [nsga25, dnsga25, moead25, moeadkf25, dtaea25], yLab: true, xLab: false,
    inset: { px: [149, 246], py: [177, 225], xDom: [6.8, 8.18], yDom: [1.49e-3, 3.05e-3], links: [['bl', 'tr'], ['tr', 'tr']] } },
  { px: [351, 626], py: [40, 232], yDom: [1e-4, 1e-1], data: [nsga50, dnsga50, moead50, moeadkf50, dtaea50], yLab: false, xLab: false,
    inset: { px: [447, 530], py: [176, 225], xDom: [6.93, 8.12], yDom: [9.9e-4, 1.96e-3], links: [['bl', 'tr'], ['tr', 'tr']] } },
  { px: [60, 335], py: [242, 435], yDom: [5e-5, 5e-2], data: [nsga100, dnsga100, moead100, moeadkf100, dtaea100], yLab: true, xLab: true,
    inset: { px: [163, 233], py: [392, 428], xDom: [4.0, 5.2], yDom: [2.9e-3, 5.0e-3], links: [['tl', 'bl'], ['tr', 'br']] } },
  { px: [351, 626], py: [242, 435], yDom: [5e-5, 5e-2], data: [nsga200, dnsga200, moead200, moeadkf200, dtaea200], yLab: false, xLab: true,
    inset: { px: [450, 527], py: [379, 428], xDom: [7.96, 9.09], yDom: [4.1e-4, 8.0e-4], links: [['tr', 'tl'], ['bl', 'tr']] } }
];

const svg = d3.select('#chart');
const defs = svg.append('defs');

function drawSeries(g, p, x, y) {
  const line = d3.line().x(d => x(d[0])).y(d => y(d[1]));
  styles.forEach((s, i) => {
    const data = p.data[i];
    g.append('path').datum(data)
      .attr('d', line)
      .attr('fill', 'none')
      .attr('stroke', s.color)
      .attr('stroke-width', s.width)
      .attr('stroke-dasharray', s.dash || null)
      .attr('stroke-linejoin', 'round');
    if (s.marker === 'circle') {
      g.selectAll(null).data(data).enter().append('circle')
        .attr('cx', d => x(d[0])).attr('cy', d => y(d[1])).attr('r', 2.7)
        .attr('fill', 'none').attr('stroke', s.color).attr('stroke-width', 1.1);
    } else if (s.marker === 'plus') {
      g.selectAll(null).data(data).enter().append('path')
        .attr('d', 'M-3,0H3M0,-3V3')
        .attr('transform', d => 'translate(' + x(d[0]) + ',' + y(d[1]) + ')')
        .attr('stroke', s.color).attr('stroke-width', 1.2);
    }
  });
}

function isDecade(v) {
  const l = Math.log10(v);
  return Math.abs(l - Math.round(l)) < 1e-6;
}

function corner(b, name) {
  return [name[1] === 'l' ? b.l : b.r, name[0] === 't' ? b.t : b.b];
}

panels.forEach((p, k) => {
  const x = d3.scaleLinear().domain([0, 10]).range(p.px);
  const y = d3.scaleLog().domain(p.yDom).range([p.py[1], p.py[0]]);
  const g = svg.append('g');
  const [x0, x1] = p.px, [y0, y1] = p.py;

  defs.append('clipPath').attr('id', 'clip' + k)
    .append('rect').attr('x', x0).attr('y', y0).attr('width', x1 - x0).attr('height', y1 - y0);

  // grid
  const grid = g.append('g').attr('stroke', '#000').attr('stroke-width', 0.8).attr('stroke-dasharray', '1,2.5');
  grid.selectAll(null).data(d3.range(1, 10)).enter().append('line')
    .attr('x1', d => x(d)).attr('x2', d => x(d)).attr('y1', y0).attr('y2', y1);
  const decades = y.ticks().filter(isDecade);
  grid.selectAll(null).data(decades.filter(v => Math.abs(y(v) - y0) > 1 && Math.abs(y(v) - y1) > 1)).enter().append('line')
    .attr('x1', x0).attr('x2', x1).attr('y1', d => y(d)).attr('y2', d => y(d));

  // series
  const sg = g.append('g').attr('clip-path', 'url(#clip' + k + ')');
  drawSeries(sg, p, x, y);

  // frame and ticks
  g.append('rect').attr('x', x0).attr('y', y0).attr('width', x1 - x0).attr('height', y1 - y0)
    .attr('fill', 'none').attr('stroke', '#000').attr('stroke-width', 1);
  const tk = g.append('g').attr('stroke', '#000').attr('stroke-width', 0.8);
  d3.range(1, 10).forEach(v => {
    tk.append('line').attr('x1', x(v)).attr('x2', x(v)).attr('y1', y1).attr('y2', y1 - 4);
    tk.append('line').attr('x1', x(v)).attr('x2', x(v)).attr('y1', y0).attr('y2', y0 + 4);
  });
  y.ticks().forEach(v => {
    const len = isDecade(v) ? 4 : 2;
    tk.append('line').attr('x1', x0).attr('x2', x0 + len).attr('y1', y(v)).attr('y2', y(v));
    tk.append('line').attr('x1', x1).attr('x2', x1 - len).attr('y1', y(v)).attr('y2', y(v));
  });

  // tick labels
  if (p.yLab) {
    decades.forEach(v => {
      const t = g.append('text').attr('x', x0 - 5).attr('y', y(v) + 4).attr('text-anchor', 'end').attr('font-size', 12);
      t.append('tspan').text('10');
      t.append('tspan').attr('dy', -5).attr('font-size', 8.5).text('\u2212' + Math.round(-Math.log10(v)));
    });
    g.append('text').attr('transform', 'translate(18,' + ((y0 + y1) / 2) + ') rotate(-90)')
      .attr('text-anchor', 'middle').attr('font-size', 13).text('IGD');
  }
  if (p.xLab) {
    g.selectAll(null).data(xTickLabels).enter().append('text')
      .attr('x', d => x(d)).attr('y', y1 + 13).attr('text-anchor', 'middle').attr('font-size', 12)
      .text(d => d);
    g.append('text').attr('x', (x0 + x1) / 2).attr('y', 466).attr('text-anchor', 'middle')
      .attr('font-size', 13).text('Time Step');
  }

  // tau label
  const tl = g.append('text').attr('x', x1 - 4).attr('y', y0 + 17).attr('text-anchor', 'end').attr('font-size', 13);
  tl.append('tspan').attr('font-family', 'DejaVu Serif, serif').attr('font-style', 'italic').text('\u03c4');
  tl.append('tspan').attr('font-family', 'DejaVu Serif, serif').attr('font-style', 'italic').attr('font-size', 9).attr('dy', 3).text('t');
  tl.append('tspan').attr('dy', -3).text('=' + tauLabels[k]);

  // inset
  const ins = p.inset;
  const src = { l: x(ins.xDom[0]), r: x(ins.xDom[1]), t: y(ins.yDom[1]), b: y(ins.yDom[0]) };
  const box = { l: ins.px[0], r: ins.px[1], t: ins.py[0], b: ins.py[1] };
  g.append('rect').attr('x', src.l).attr('y', src.t).attr('width', src.r - src.l).attr('height', src.b - src.t)
    .attr('fill', 'none').attr('stroke', '#808080').attr('stroke-width', 1);

  const ix = d3.scaleLinear().domain(ins.xDom).range(ins.px);
  const iy = d3.scaleLog().domain(ins.yDom).range([ins.py[1], ins.py[0]]);
  defs.append('clipPath').attr('id', 'iclip' + k)
    .append('rect').attr('x', box.l).attr('y', box.t).attr('width', box.r - box.l).attr('height', box.b - box.t);
  g.append('rect').attr('x', box.l).attr('y', box.t).attr('width', box.r - box.l).attr('height', box.b - box.t)
    .attr('fill', '#fff');
  const ig = g.append('g').attr('clip-path', 'url(#iclip' + k + ')');
  drawSeries(ig, p, ix, iy);
  g.append('rect').attr('x', box.l).attr('y', box.t).attr('width', box.r - box.l).attr('height', box.b - box.t)
    .attr('fill', 'none').attr('stroke', '#000').attr('stroke-width', 1);
  const itk = g.append('g').attr('stroke', '#000').attr('stroke-width', 0.8);
  ix.ticks(6).forEach(v => {
    itk.append('line').attr('x1', ix(v)).attr('x2', ix(v)).attr('y1', box.b).attr('y2', box.b - 3);
    itk.append('line').attr('x1', ix(v)).attr('x2', ix(v)).attr('y1', box.t).attr('y2', box.t + 3);
  });
  iy.ticks(4).forEach(v => {
    itk.append('line').attr('x1', box.l).attr('x2', box.l + 3).attr('y1', iy(v)).attr('y2', iy(v));
    itk.append('line').attr('x1', box.r).attr('x2', box.r - 3).attr('y1', iy(v)).attr('y2', iy(v));
  });

  ins.links.forEach(([a, b]) => {
    const pa = corner(box, a), pb = corner(src, b);
    g.append('line').attr('x1', pa[0]).attr('y1', pa[1]).attr('x2', pb[0]).attr('y2', pb[1])
      .attr('stroke', '#808080').attr('stroke-width', 0.9);
  });
});

// ---- legend ----
const leg = svg.append('g');
leg.append('rect').attr('x', 52).attr('y', 7).attr('width', 461).attr('height', 25).attr('rx', 2)
  .attr('fill', '#fff').attr('stroke', '#000').attr('stroke-width', 1);
const legX = [[57, 77, 87], [143, 165, 173], [238, 260, 268], [330, 350, 361], [442, 463, 472]];
styles.forEach((s, i) => {
  const [a, b, t] = legX[i];
  const cy = 19.5;
  leg.append('line').attr('x1', a).attr('x2', b).attr('y1', cy).attr('y2', cy)
    .attr('stroke', s.color).attr('stroke-width', s.width).attr('stroke-dasharray', s.dash || null);
  const mx = (a + b) / 2;
  if (s.marker === 'circle') {
    leg.append('circle').attr('cx', mx).attr('cy', cy).attr('r', 2.6).attr('fill', '#fff')
      .attr('stroke', s.color).attr('stroke-width', 1);
  } else if (s.marker === 'plus') {
    leg.append('path').attr('d', 'M-2.5,0H2.5M0,-2.5V2.5').attr('transform', 'translate(' + mx + ',' + cy + ')')
      .attr('stroke', s.color).attr('stroke-width', 1);
  } else if (i === 2) {
    leg.append('circle').attr('cx', mx).attr('cy', cy).attr('r', 1).attr('fill', '#000');
  }
  leg.append('text').attr('x', t).attr('y', cy + 4).attr('font-size', 11).text(algoNames[i]);
});
</script>
</body>
</html>
